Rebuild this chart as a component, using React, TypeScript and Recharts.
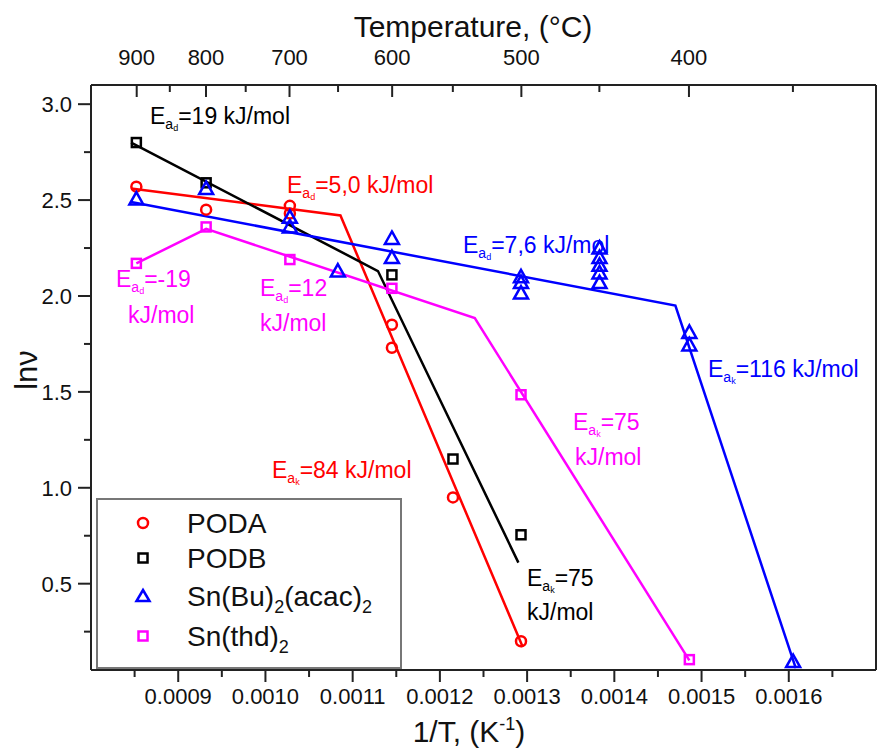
import React from 'react';
import { ComposedChart, Scatter, XAxis, YAxis, ReferenceLine } from 'recharts';

// 1/T values (K^-1) and ln(nu)
const podaX = [0.000852, 0.000932, 0.001028, 0.001028, 0.001145, 0.001145, 0.001215, 0.001293];
const podaY = [2.57, 2.45, 2.47, 2.43, 1.85, 1.73, 0.95, 0.2];

const podbX = [0.000852, 0.000932, 0.001145, 0.001215, 0.001293];
const podbY = [2.8, 2.59, 2.11, 1.15, 0.755];

const snBuX = [
  0.000852, 0.000932, 0.001028, 0.001028, 0.001083, 0.001145, 0.001145, 0.001293, 0.001293, 0.001293,
  0.001383, 0.001383, 0.001383, 0.001383, 0.001383, 0.001486, 0.001486, 0.001605,
];
const snBuY = [2.505, 2.56, 2.41, 2.36, 2.13, 2.3, 2.2, 2.1, 2.07, 2.015, 2.25, 2.2, 2.16, 2.12, 2.07, 1.81, 1.745, 0.094];

const snThdX = [0.000852, 0.000932, 0.001028, 0.001145, 0.001293, 0.001486];
const snThdY = [2.17, 2.36, 2.19, 2.04, 1.485, 0.104];

// fitted segments (start, kink, end)
const podaFitX = [0.000846, 0.001086, 0.001295];
const podaFitY = [2.56, 2.42, 0.17];
const podbFitX = [0.000846, 0.001129, 0.00129];
const podbFitY = [2.8, 2.13, 0.61];
const snBuFitX = [0.000846, 0.00147, 0.001608];
const snBuFitY = [2.49, 1.95, 0.06];
const snThdFitX = [0.000852, 0.000932, 0.00124, 0.001486];
const snThdFitY = [2.17, 2.35, 1.885, 0.1];

// axis ticks
const bottomTicks = [0.00085, 0.0009, 0.00095, 0.001, 0.00105, 0.0011, 0.00115, 0.0012, 0.00125, 0.0013, 0.00135, 0.0014, 0.00145, 0.0015, 0.00155, 0.0016, 0.00165];
const bottomLabels = [0.0009, 0.001, 0.0011, 0.0012, 0.0013, 0.0014, 0.0015, 0.0016];
const tempMajor = [900, 800, 700, 600, 500, 400];
const tempMinor = [850, 750, 650, 550, 450, 350];
const yTicks = [0.25, 0.5, 0.75, 1.0, 1.25, 1.5, 1.75, 2.0, 2.25, 2.5, 2.75, 3.0];
const yLabels = [0.5, 1.0, 1.5, 2.0, 2.5, 3.0];

const FONT = '"Liberation Sans", Arial, Helvetica, sans-serif';
const AX = '#222';

const zip = (xs: number[], ys: number[]) => xs.map((x, i) => ({ x, y: ys[i] }));
const near = (list: number[], v: number) => list.some((t) => Math.abs(t - v) < 1e-9);
const toInvT = (t: number) => 1 / (t + 273.15);
const topTicks = [...tempMajor, ...tempMinor].map(toInvT);

function BottomTick({ x, y, payload }: any) {
  const major = near(bottomLabels, payload.value);
  return (
    <g>
      <line x1={x} x2={x} y1={y} y2={y + (major ? 12 : 7)} stroke={AX} strokeWidth={2} />
      {major && (
        <text x={x} y={y + 34} textAnchor="middle" fontSize={22} fontFamily={FONT} fill="#111">
          {payload.value.toFixed(4)}
        </text>
      )}
    </g>
  );
}

function TopTick({ x, y, payload }: any) {
  const t = Math.round(1 / payload.value - 273.15);
  const major = tempMajor.includes(t);
  return (
    <g>
      <line x1={x} x2={x} y1={y} y2={y + (major ? 12 : 7)} stroke={AX} strokeWidth={2} />
      {major && (
        <text x={x} y={y - 20} textAnchor="middle" fontSize={22} fontFamily={FONT} fill="#111">
          {t}
        </text>
      )}
    </g>
  );
}

function LeftTick({ x, y, payload }: any) {
  const major = near(yLabels, payload.value);
  return (
    <g>
      <line x1={x - (major ? 13 : 7)} x2={x} y1={y} y2={y} stroke={AX} strokeWidth={2} />
      {major && (
        <text x={x - 19} y={y + 8} textAnchor="end" fontSize={22} fontFamily={FONT} fill="#111">
          {payload.value.toFixed(1)}
        </text>
      )}
    </g>
  );
}

const circle = (color: string) => (p: any) => (
  <circle cx={p.cx} cy={p.cy} r={5} fill="none" stroke={color} strokeWidth={2.5} />
);
const square = (color: string) => (p: any) => (
  <rect x={p.cx - 4.5} y={p.cy - 4.5} width={9} height={9} fill="none" stroke={color} strokeWidth={2.5} />
);
const triangle = (color: string) => (p: any) => (
  <path
    d={`M${p.cx},${p.cy - 7} L${p.cx + 7},${p.cy + 5.5} L${p.cx - 7},${p.cy + 5.5} Z`}
    fill="none"
    stroke={color}
    strokeWidth={2.5}
    strokeLinejoin="miter"
  />
);
const noDot = () => <g />;

function Ea({ x, y, color, sub, text }: { x: number; y: number; color: string; sub: string; text: string }) {
  return (
    <text x={x} y={y} fill={color} fontSize={23} fontFamily={FONT}>
      <tspan>E</tspan>
      <tspan fontSize={14} dy={5}>a</tspan>
      <tspan fontSize={9} dy={2}>{sub}</tspan>
      <tspan dy={-7}>{text}</tspan>
    </text>
  );
}

function Note({ x, y, color, text }: { x: number; y: number; color: string; text: string }) {
  return (
    <text x={x} y={y} fill={color} fontSize={23} fontFamily={FONT}>
      {text}
    </text>
  );
}

function Overlay() {
  return (
    <svg width={877} height={749} style={{ position: 'absolute', left: 0, top: 0, pointerEvents: 'none' }}>
      <text x={473} y={37} textAnchor="middle" fontSize={30} fontFamily={FONT} fill="#111">
        Temperature, (°C)
      </text>
      <text x={469} y={742} textAnchor="middle" fontSize={30} fontFamily={FONT} fill="#111">
        1/T, (K<tspan fontSize={18} dy={-12}>-1</tspan>
        <tspan dy={12}>)</tspan>
      </text>
      <text x={37} y={370} transform="rotate(-90 37 370)" textAnchor="middle" fontSize={31} fontFamily={FONT} fill="#111">
        lnν
      </text>

      <Ea x={150} y={124} color="#000" sub="d" text="=19 kJ/mol" />
      <Ea x={287} y={193} color="#ff0000" sub="d" text="=5,0 kJ/mol" />
      <Ea x={463} y={253} color="#0000ff" sub="d" text="=7,6 kJ/mol" />
      <Ea x={116} y={287} color="#ff00ff" sub="d" text="=-19" />
      <Note x={128} y={323} color="#ff00ff" text="kJ/mol" />
      <Ea x={260} y={296} color="#ff00ff" sub="d" text="=12" />
      <Note x={260} y={331} color="#ff00ff" text="kJ/mol" />
      <Ea x={708} y={377} color="#0000ff" sub="k" text="=116 kJ/mol" />
      <Ea x={573} y={430} color="#ff00ff" sub="k" text="=75" />
      <Note x={575} y={465} color="#ff00ff" text="kJ/mol" />
      <Ea x={272} y={478} color="#ff0000" sub="k" text="=84 kJ/mol" />
      <Ea x={527} y={586} color="#000" sub="k" text="=75" />
      <Note x={527} y={620} color="#000" text="kJ/mol" />

      <rect x={97} y={499} width={304} height={169} fill="#fff" stroke="#777" strokeWidth={2} />
      <circle cx={143} cy={523} r={5} fill="none" stroke="#ff0000" strokeWidth={2.5} />
      <rect x={138.5} y={553.5} width={9} height={9} fill="none" stroke="#000" strokeWidth={2.5} />
      <path d="M143,590 L149.5,601 L136.5,601 Z" fill="none" stroke="#0000ff" strokeWidth={2.5} />
      <rect x={138.5} y={631.5} width={9} height={9} fill="none" stroke="#ff00ff" strokeWidth={2.5} />
      <g fontSize={28} fontFamily={FONT} fill="#111">
        <text x={187} y={533}>PODA</text>
        <text x={187} y={568}>PODB</text>
        <text x={187} y={606}>
          Sn(Bu)<tspan fontSize={18} dy={7}>2</tspan>
          <tspan dy={-7}>(acac)</tspan>
          <tspan fontSize={18} dy={7}>2</tspan>
        </text>
        <text x={187} y={646}>
          Sn(thd)<tspan fontSize={18} dy={7}>2</tspan>
        </text>
      </g>
    </svg>
  );
}

export default function App() {
  return (
    <div style={{ position: 'absolute', left: 0, top: 0, width: 877, height: 749, background: '#fff' }}>
      <ComposedChart width={877} height={749} margin={{ top: 0, right: 1, bottom: 0, left: 0 }}>
        <XAxis
          xAxisId="bottom"
          type="number"
          dataKey="x"
          domain={[0.0008, 0.0017]}
          allowDataOverflow
          ticks={bottomTicks}
          interval={0}
          height={79}
          tickSize={0}
          tickMargin={0}
          tick={<BottomTick />}
          axisLine={{ stroke: AX, strokeWidth: 2 }}
        />
        <XAxis
          xAxisId="top"
          orientation="top"
          type="number"
          dataKey="x"
          domain={[0.0008, 0.0017]}
          allowDataOverflow
          ticks={topTicks}
          interval={0}
          height={85}
          tickSize={0}
          tickMargin={0}
          tick={<TopTick />}
          axisLine={{ stroke: AX, strokeWidth: 2 }}
        />
        <YAxis
          yAxisId="left"
          type="number"
          dataKey="y"
          domain={[0.05, 3.1]}
          allowDataOverflow
          ticks={yTicks}
          interval={0}
          width={91}
          tickSize={0}
          tickMargin={0}
          tick={<LeftTick />}
          axisLine={{ stroke: AX, strokeWidth: 2 }}
        />
        <ReferenceLine xAxisId="bottom" yAxisId="left" x={0.0017} stroke={AX} strokeWidth={2} />

        <Scatter xAxisId="top" yAxisId="left" data={zip(snThdFitX, snThdFitY)} shape={noDot} isAnimationActive={false} />
        <Scatter xAxisId="bottom" yAxisId="left" data={zip(podaFitX, podaFitY)} line={{ stroke: '#ff0000', strokeWidth: 2.5 }} lineType="joint" shape={noDot} isAnimationActive={false} />
        <Scatter xAxisId="bottom" yAxisId="left" data={zip(podbFitX, podbFitY)} line={{ stroke: '#000', strokeWidth: 2.5 }} lineType="joint" shape={noDot} isAnimationActive={false} />
        <Scatter xAxisId="bottom" yAxisId="left" data={zip(snBuFitX, snBuFitY)} line={{ stroke: '#0000ff', strokeWidth: 2.5 }} lineType="joint" shape={noDot} isAnimationActive={false} />
        <Scatter xAxisId="bottom" yAxisId="left" data={zip(snThdFitX, snThdFitY)} line={{ stroke: '#ff00ff', strokeWidth: 2.5 }} lineType="joint" shape={noDot} isAnimationActive={false} />

        <Scatter xAxisId="bottom" yAxisId="left" name="PODA" data={zip(podaX, podaY)} shape={circle('#ff0000')} isAnimationActive={false} />
        <Scatter xAxisId="bottom" yAxisId="left" name="PODB" data={zip(podbX, podbY)} shape={square('#000')} isAnimationActive={false} />
        <Scatter xAxisId="bottom" yAxisId="left" name="Sn(Bu)2(acac)2" data={zip(snBuX, snBuY)} shape={triangle('#0000ff')} isAnimationActive={false} />
        <Scatter xAxisId="bottom" yAxisId="left" name="Sn(thd)2" data={zip(snThdX, snThdY)} shape={square('#ff00ff')} isAnimationActive={false} />
      </ComposedChart>
      <Overlay />
    </div>
  );
}
